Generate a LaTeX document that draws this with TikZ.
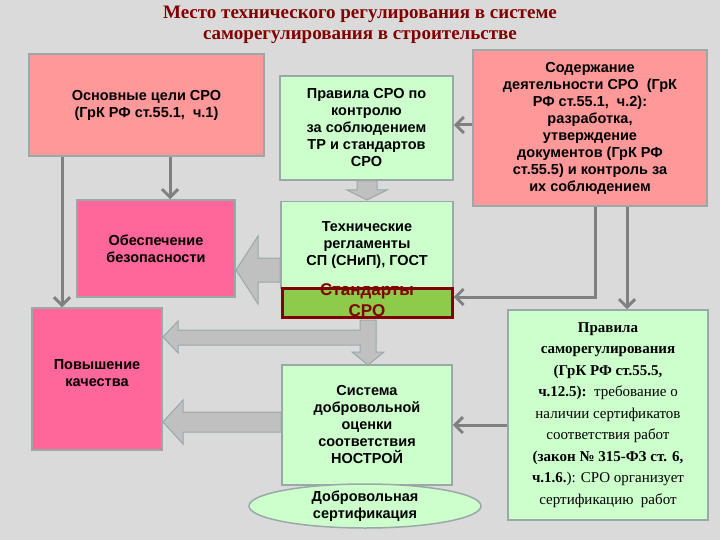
\documentclass[tikz,border=0pt]{standalone}
\usepackage{fontspec}
\setmainfont{Liberation Sans}
\newfontfamily\serifx{Liberation Serif}
\usetikzlibrary{shapes.geometric,arrows.meta}
\definecolor{bg}{HTML}{DADADA}
\definecolor{pinkA}{HTML}{FF9999}
\definecolor{pinkB}{HTML}{FF6699}
\definecolor{lgreen}{HTML}{CCFFCC}
\definecolor{sgreen}{HTML}{8FCB4A}
\definecolor{dred}{HTML}{800000}
\definecolor{bord}{HTML}{9AA8A8}
\definecolor{fat}{HTML}{C0C0C0}
\definecolor{ln}{HTML}{808080}
\begin{document}
\begin{tikzpicture}[x=1pt,y=-1pt,
  box/.style={draw=bord,line width=1.5pt,align=center,font=\bfseries\fontsize{14.5}{17}\selectfont,inner sep=2pt},
  thin/.style={draw=ln,line width=3pt,-{Straight Barb[length=8pt,width=16pt,line width=3pt]}},
  fatarrow/.style={fill=fat,draw=bord,line width=1pt}]
\fill[bg] (0,0) rectangle (720,540);
\useasboundingbox (0,0) rectangle (720,540);
\node[font=\serifx\bfseries\fontsize{19}{21}\selectfont,text=dred,align=center] (title) at (360,25) {Место технического регулирования в системе\\саморегулирования в строительстве};
\node[box,fill=pinkA,minimum width=235,minimum height=102] (goals) at (146.5,105) {Основные цели СРО\\(ГрК РФ ст.55.1,\ \ ч.1)};
\node[box,fill=lgreen,minimum width=173,minimum height=104] (rules) at (366.5,128) {Правила СРО по\\контролю\\за соблюдением\\ТР и стандартов\\СРО};
\node[box,fill=pinkA,minimum width=234,minimum height=156] (content) at (590,128) {Содержание\\деятельности СРО\ \ (ГрК\\РФ ст.55.1,\ \ ч.2):\\разработка,\\утверждение\\документов (ГрК РФ\\ст.55.5) и контроль за\\их соблюдением};
\node[box,fill=lgreen,minimum width=172,minimum height=86,anchor=north] (tech) at (367,201) {Технические\\регламенты\\СП (СНиП), ГОСТ};
\node[draw=dred,line width=3pt,fill=sgreen,minimum width=170,minimum height=29,inner sep=0pt] (std) at (367,302.5) {};
\node[text=dred,font=\bfseries\fontsize{17}{21}\selectfont,align=center] (stdt) at (367,300) {Стандарты\\СРО};
\node[box,fill=pinkB,minimum width=158,minimum height=97] (safe) at (156,248.5) {Обеспечение\\безопасности};
\node[box,fill=pinkB,minimum width=130,minimum height=142,text depth=12pt] (qual) at (97,379) {Повышение\\качества};
\node[box,fill=lgreen,minimum width=170,minimum height=120] (sys) at (367,425) {Система\\добровольной\\оценки\\соответствия\\НОСТРОЙ};
\node[ellipse,draw=bord,line width=1.5pt,fill=lgreen,minimum width=232,minimum height=44,align=center,font=\bfseries\fontsize{14.5}{17}\selectfont,inner sep=0pt] (cert) at (365,506) {Добровольная\\сертификация};
\node[box,fill=lgreen,minimum width=200,minimum height=210,font=\serifx\fontsize{15}{21.5}\selectfont] (srule) at (608,415) {\textbf{Правила}\\\textbf{саморегулирования}\\\textbf{(ГрК РФ ст.55.5,}\\\textbf{ч.12.5):}\ \ требование о\\наличии сертификатов\\соответствия работ\\\textbf{(закон № 315-ФЗ ст. 6,}\\\textbf{ч.1.6.}): СРО организует\\сертификацию\ \ работ};
% thin arrows
\draw[thin] (goals.south -| 62,0) -- (qual.north -| 62,0);
\draw[thin] (goals.south -| 170,0) -- (safe.north -| 170,0);
\draw[thin] (content.west |- 0,125) -- (rules.east |- 0,125);
\draw[thin] (content.south -| 595,0) -- (595,297) -- (std.east |- 0,297);
\draw[thin] (content.south -| 627,0) -- (srule.north -| 627,0);
\draw[thin] (srule.west |- 0,425) -- (sys.east |- 0,425);
% fat arrows
\draw[fatarrow] (357,181) -- (377,181) -- (377,190) -- (387,190) -- (367,200) -- (347,190) -- (357,190) -- cycle;
\draw[fatarrow] (280,258) -- (258,258) -- (258,236) -- (236,270) -- (258,304) -- (258,282) -- (280,282) -- cycle;
\draw[fatarrow] (360,320) -- (376,320) -- (376,352) -- (384,352) -- (368,365) -- (352,352) -- (360,352) -- (360,345) -- (178,345) -- (178,353) -- (163,337) -- (178,321) -- (178,330) -- (360,330) -- cycle;
\draw[fatarrow] (281,412) -- (183,412) -- (183,400) -- (163,422) -- (183,444) -- (183,432) -- (281,432) -- cycle;
\end{tikzpicture}
\end{document}
